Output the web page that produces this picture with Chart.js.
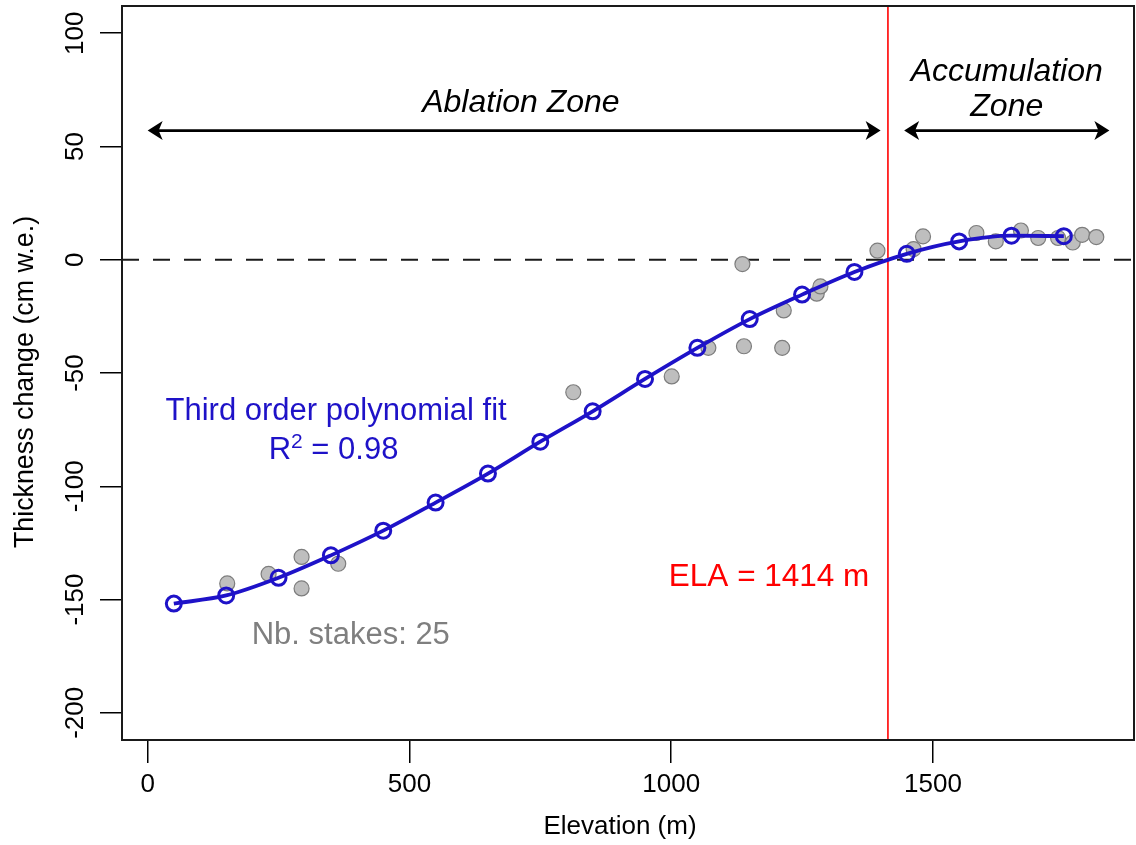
<!DOCTYPE html>
<html>
<head>
<meta charset="utf-8">
<title>Thickness change vs elevation</title>
<script src="https://cdn.jsdelivr.net/npm/chart.js@4.4.0/dist/chart.umd.min.js"></script>
<style>
  html, body { margin: 0; padding: 0; background: #fff; }
  canvas { display: block; }
</style>
</head>
<body>
<canvas id="elevationChart" width="1136" height="845"></canvas>
<script>
// stake measurements (m, cm w.e.)
const stakeElevation = [152, 231, 294, 294, 364, 813, 1001, 1071, 1136, 1139,
  1212, 1215, 1278, 1285, 1394, 1463, 1481, 1583, 1620, 1668,
  1701, 1739, 1767, 1785, 1812];
const stakeChange = [-142.9, -138.7, -131.2, -145.1, -134.2, -58.5, -51.5, -38.9, -1.9, -38.2,
  -38.9, -22.4, -15.0, -11.8, 4.0, 4.7, 10.3, 11.8, 8.1, 12.9,
  9.6, 9.6, 7.6, 11.0, 10.0];

// third order polynomial fit, evaluated every 100 m
const fitElevation = [50, 150, 250, 350, 450, 550, 650, 750, 850, 950,
  1050, 1150, 1250, 1350, 1450, 1550, 1650, 1750];
const fitChange = [-151.8, -148.2, -140.4, -130.5, -119.6, -107.2, -94.4, -80.3, -66.9, -52.6,
  -38.9, -26.2, -15.4, -5.4, 2.6, 8.1, 10.6, 10.4];

const xTicks = [0, 500, 1000, 1500];
const yTicks = [-200, -150, -100, -50, 0, 50, 100];

const ela = 1414;
const rSquared = 0.98;
const ablationSpan = [0, 1400];
const accumulationSpan = [1445, 1837];
const zoneArrowLevel = 57;

const FONT = "'Liberation Sans', Arial, Helvetica, sans-serif";
const BLUE = '#1e12c8';

function arrowHead(ctx, tipX, tipY, dir) {
  const len = 15, half = 9.5, notch = 4;
  ctx.beginPath();
  ctx.moveTo(tipX, tipY);
  ctx.lineTo(tipX - dir * len, tipY - half);
  ctx.lineTo(tipX - dir * (len - notch), tipY);
  ctx.lineTo(tipX - dir * len, tipY + half);
  ctx.closePath();
  ctx.fill();
}

function doubleArrow(ctx, x1, x2, y) {
  ctx.beginPath();
  ctx.moveTo(x1 + 8, y);
  ctx.lineTo(x2 - 8, y);
  ctx.stroke();
  arrowHead(ctx, x1, y, -1);
  arrowHead(ctx, x2, y, 1);
}

const decorations = {
  id: 'decorations',
  beforeDatasetsDraw(chart) {
    const { ctx, chartArea: a, scales: { x, y } } = chart;
    ctx.save();
    // zero reference line
    const y0 = y.getPixelForValue(0);
    ctx.strokeStyle = '#1a1a1a';
    ctx.lineWidth = 2;
    ctx.setLineDash([17, 14]);
    ctx.beginPath();
    ctx.moveTo(a.left, y0);
    ctx.lineTo(a.right, y0);
    ctx.stroke();
    ctx.setLineDash([]);
    // equilibrium line altitude
    const xe = x.getPixelForValue(ela);
    ctx.strokeStyle = '#ff0000';
    ctx.lineWidth = 1.6;
    ctx.beginPath();
    ctx.moveTo(xe, a.top);
    ctx.lineTo(xe, a.bottom);
    ctx.stroke();
    ctx.restore();
  },
  afterDraw(chart) {
    const { ctx, chartArea: a, scales: { x, y } } = chart;
    ctx.save();

    // plot frame
    ctx.strokeStyle = '#1a1a1a';
    ctx.lineWidth = 2;
    ctx.strokeRect(a.left, a.top, a.right - a.left, a.bottom - a.top);

    // tick labels
    ctx.fillStyle = '#000';
    ctx.font = `26px ${FONT}`;
    ctx.textAlign = 'center';
    ctx.textBaseline = 'alphabetic';
    xTicks.forEach(v => ctx.fillText(String(v), x.getPixelForValue(v), 792));
    yTicks.forEach(v => {
      ctx.save();
      ctx.translate(83, y.getPixelForValue(v));
      ctx.rotate(-Math.PI / 2);
      ctx.fillText(String(v), 0, 0);
      ctx.restore();
    });

    // axis titles
    ctx.fillText('Elevation (m)', 620, 834);
    ctx.save();
    ctx.translate(33, 382);
    ctx.rotate(-Math.PI / 2);
    ctx.font = `26.8px ${FONT}`;
    ctx.fillText('Thickness change (cm w.e.)', 0, 0);
    ctx.restore();

    // zone arrows and labels
    const ya = y.getPixelForValue(zoneArrowLevel);
    ctx.strokeStyle = '#000';
    ctx.lineWidth = 2.6;
    doubleArrow(ctx, x.getPixelForValue(ablationSpan[0]), x.getPixelForValue(ablationSpan[1]), ya);
    doubleArrow(ctx, x.getPixelForValue(accumulationSpan[0]), x.getPixelForValue(accumulationSpan[1]), ya);

    ctx.font = `italic 32px ${FONT}`;
    ctx.fillText('Ablation Zone', x.getPixelForValue(713), y.getPixelForValue(65.3));
    const accX = x.getPixelForValue((accumulationSpan[0] + accumulationSpan[1]) / 2);
    ctx.fillText('Accumulation', accX, y.getPixelForValue(79));
    ctx.fillText('Zone', accX, y.getPixelForValue(63.5));

    // fit annotation
    ctx.fillStyle = BLUE;
    ctx.font = `31px ${FONT}`;
    ctx.fillText('Third order polynomial fit', x.getPixelForValue(360), y.getPixelForValue(-70.6));
    const rx = x.getPixelForValue(355), ry = y.getPixelForValue(-87.8);
    const pre = 'R', sup = '2', post = ' = ' + rSquared.toFixed(2);
    const wPre = ctx.measureText(pre).width, wPost = ctx.measureText(post).width;
    ctx.font = `21px ${FONT}`;
    const wSup = ctx.measureText(sup).width;
    let cx = rx - (wPre + wSup + wPost) / 2;
    ctx.textAlign = 'left';
    ctx.font = `31px ${FONT}`;
    ctx.fillText(pre, cx, ry);
    cx += wPre;
    ctx.font = `21px ${FONT}`;
    ctx.fillText(sup, cx, ry - 11);
    cx += wSup;
    ctx.font = `31px ${FONT}`;
    ctx.fillText(post, cx, ry);

    // ELA and stake count
    ctx.textAlign = 'center';
    ctx.fillStyle = '#ff0000';
    ctx.font = `31.5px ${FONT}`;
    ctx.fillText('ELA = ' + ela + ' m', x.getPixelForValue(1187), y.getPixelForValue(-144));
    ctx.fillStyle = '#7f7f7f';
    ctx.font = `31px ${FONT}`;
    ctx.fillText('Nb. stakes: ' + stakeElevation.length, x.getPixelForValue(388), y.getPixelForValue(-169.5));

    ctx.restore();
  }
};

const stakePoints = stakeElevation.map((e, i) => ({ x: e, y: stakeChange[i] }));
const fitPoints = fitElevation.map((e, i) => ({ x: e, y: fitChange[i] }));

new Chart(document.getElementById('elevationChart'), {
  type: 'scatter',
  data: {
    datasets: [
      {
        label: 'Polynomial fit',
        data: fitPoints,
        showLine: true,
        cubicInterpolationMode: 'monotone',
        borderColor: BLUE,
        borderWidth: 3.8,
        pointRadius: 7.5,
        pointBorderWidth: 3,
        pointBorderColor: BLUE,
        pointBackgroundColor: 'rgba(0,0,0,0)',
        order: 0
      },
      {
        label: 'Stakes',
        data: stakePoints,
        pointRadius: 7.5,
        pointBorderWidth: 1.2,
        pointBorderColor: '#7d7d7d',
        pointBackgroundColor: '#bebebe',
        order: 1
      }
    ]
  },
  options: {
    responsive: false,
    animation: false,
    devicePixelRatio: 1,
    layout: { autoPadding: false, padding: { top: 6, right: 2, left: 0, bottom: 0 } },
    plugins: { legend: { display: false }, tooltip: { enabled: false } },
    scales: {
      x: {
        type: 'linear',
        min: -49,
        max: 1884,
        afterBuildTicks: s => { s.ticks = xTicks.map(v => ({ value: v })); },
        afterFit: s => { s.height = 105; },
        ticks: { display: false },
        border: { display: false },
        grid: { drawOnChartArea: false, drawTicks: true, tickLength: 23, color: '#000', lineWidth: 1.5 }
      },
      y: {
        type: 'linear',
        min: -212,
        max: 112,
        afterBuildTicks: s => { s.ticks = yTicks.map(v => ({ value: v })); },
        afterFit: s => { s.width = 122; },
        ticks: { display: false },
        border: { display: false },
        grid: { drawOnChartArea: false, drawTicks: true, tickLength: 22, color: '#000', lineWidth: 1.5 }
      }
    }
  },
  plugins: [decorations]
});
</script>
</body>
</html>
